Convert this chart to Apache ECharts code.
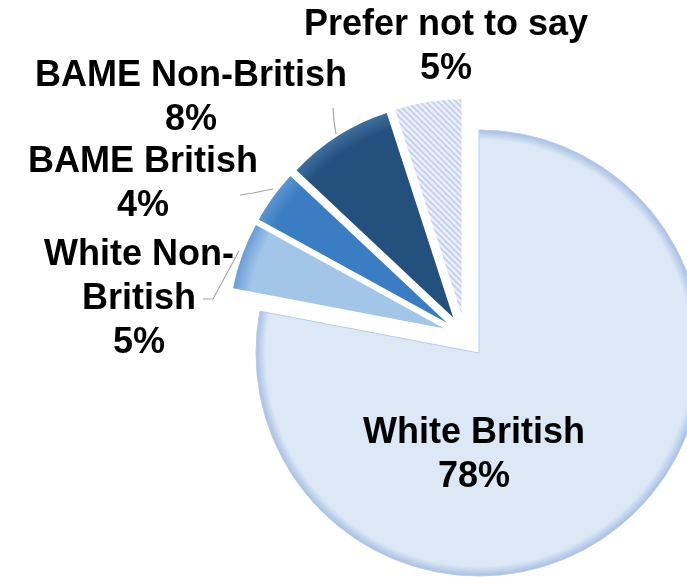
<!DOCTYPE html>
<html>
<head>
<meta charset="utf-8">
<script src="https://cdn.jsdelivr.net/npm/echarts@6/dist/echarts.min.js"></script>
<style>
html,body{margin:0;padding:0;background:#fff;}
#chart{width:687px;height:577px;}
</style>
</head>
<body>
<div id="chart"></div>
<script>
// ---- data ----
const categories = ['White British', 'White Non-British', 'BAME British', 'BAME Non-British', 'Prefer not to say'];
const values = [78, 5, 4, 8, 5];
const labelNames = ['White British', 'White Non-\nBritish', 'BAME British', 'BAME Non-British', 'Prefer not to say'];

// ---- styling / layout ----
const fillInner = ['#dce8f5', '#a2c5e8', '#3b7dc2', '#24507e', null];
const fillEdge  = ['#a8bfe3', '#6b9cd6', '#5b94d1', '#3f6e9e', null];
const mainCenter = [479, 353];
const mainR = 223;
const explodeR = 215;
const explodeD = 22;
// label anchor (center of text block) and leader lines
const labelAnchor = [[474, 455], [139, 299], [143, 184], [191, 98], [446, 47]];
const leaderPts = [null,
  [[239, 251], [213, 299], [203, 299]],
  [[273, 189], [253, 193], [240, 195]],
  [[336, 134], [334, 121], [333, 108]],
  null];

const total = values.reduce((a, b) => a + b, 0);
const th0 = values[0] / 2 / total * 2 * Math.PI;
const smallCenter = [mainCenter[0] - explodeD * Math.sin(th0), mainCenter[1] + explodeD * Math.cos(th0)];

function radial(cx, cy, r, inner, edge, stop) {
  return {
    type: 'radial', x: cx, y: cy, r: r, global: true,
    colorStops: [{offset: 0, color: inner}, {offset: stop, color: inner}, {offset: 1, color: edge}]
  };
}

// hatch pattern
const pc = document.createElement('canvas');
pc.width = 6; pc.height = 6;
const g = pc.getContext('2d');
g.fillStyle = '#eef1f9'; g.fillRect(0, 0, 6, 6);
g.strokeStyle = '#b3bfe5'; g.lineWidth = 1.3;
g.beginPath(); g.moveTo(-1, -1); g.lineTo(7, 7); g.stroke();
g.beginPath(); g.moveTo(-1, 5); g.lineTo(1, 7); g.stroke();
g.beginPath(); g.moveTo(5, -1); g.lineTo(7, 1); g.stroke();
const hatch = {image: pc, repeat: 'repeat'};

const font = {fontFamily: '"Liberation Sans", Arial, sans-serif', fontWeight: 'bold', fontSize: 36, lineHeight: 44, color: '#000'};
const clear = 'rgba(0,0,0,0)';

// main (unexploded) series: White British slice + all labels
const dataMain = categories.map((c, i) => ({
  name: c, value: values[i],
  itemStyle: i === 0
    ? {color: radial(mainCenter[0], mainCenter[1], mainR, fillInner[0], fillEdge[0], 0.955), borderColor: '#b9cce9', borderWidth: 1}
    : {color: clear, borderWidth: 0},
  label: Object.assign({show: true, position: i === 0 ? 'inside' : 'outside', formatter: labelNames[i] + '\n{d}%'}, font),
  labelLine: {show: !!leaderPts[i], lineStyle: {color: '#a6a6a6', width: 1.2}}
}));

// exploded small slices
const dataSmall = categories.map((c, i) => i === 0 ? {
  name: c, value: values[i], itemStyle: {color: clear, borderWidth: 0}
} : {
  name: c, value: values[i], selected: true,
  itemStyle: {color: fillInner[i] ? radial(smallCenter[0], smallCenter[1], explodeR, fillInner[i], fillEdge[i], 0.92) : hatch}
});

function layoutFn(params) {
  const i = params.dataIndex;
  const a = labelAnchor[i];
  const out = {x: a[0], y: a[1], align: 'center', verticalAlign: 'middle'};
  if (leaderPts[i]) out.labelLinePoints = leaderPts[i];
  return out;
}

const chart = echarts.init(document.getElementById('chart'), null, {renderer: 'canvas'});
chart.setOption({
  animation: false,
  backgroundColor: '#ffffff',
  series: [
    {
      type: 'pie', center: smallCenter, radius: explodeR, startAngle: 90, clockwise: true,
      percentPrecision: 0, emphasis: {disabled: true}, silent: true,
      selectedMode: 'multiple', selectedOffset: explodeD,
      label: {show: false}, labelLine: {show: false},
      data: dataSmall
    },
    {
      type: 'pie', center: mainCenter, radius: mainR, startAngle: 90, clockwise: true,
      percentPrecision: 0, avoidLabelOverlap: false, emphasis: {disabled: true},
      data: dataMain, labelLayout: layoutFn
    }
  ]
});
</script>
</body>
</html>
